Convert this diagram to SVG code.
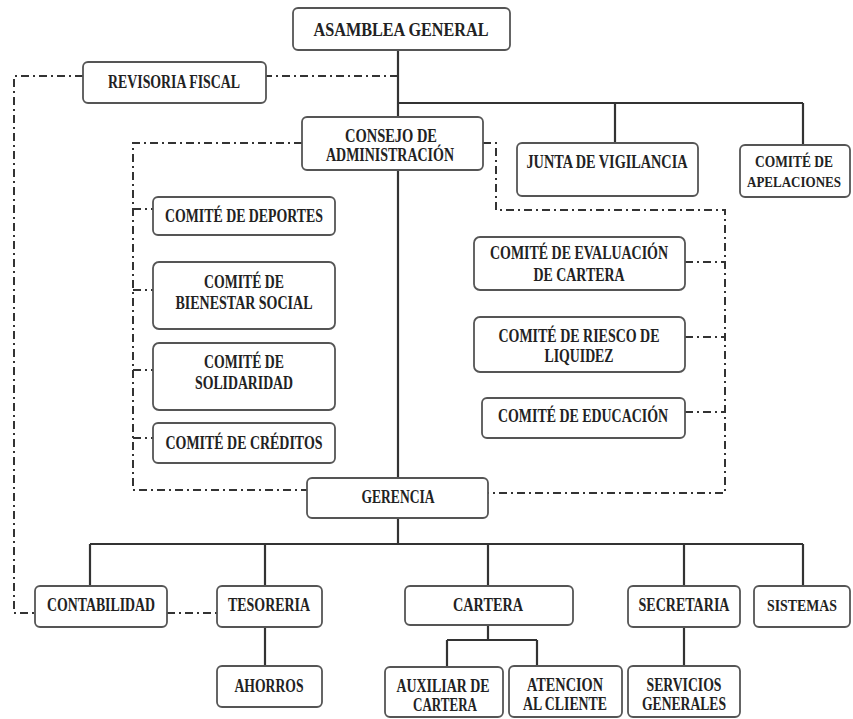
<svg xmlns="http://www.w3.org/2000/svg" width="853" height="719" viewBox="0 0 853 719">
<style>
.bx{fill:#fff;stroke:#555;stroke-width:1.8}
.t{font-family:"Liberation Serif","Times New Roman",serif;font-weight:bold;font-size:18px;fill:#222;text-anchor:middle}
.s{font-size:16px}
.xs{font-size:14px}
.sl{fill:none;stroke:#333;stroke-width:2.2}
.dd{fill:none;stroke:#333;stroke-width:2;stroke-dasharray:8 4 2 4}
</style>
<rect width="853" height="719" fill="#fff"/>
<g id="connectors">
<path class="sl" d="M398,50 V117 M398,103 H803 M615,103 V143 M803,103 V145 M398,170 V478 M398,518 V544 M90,544 H803 M90,544 V586 M265,544 V586 M488,544 V586 M684,544 V586 M803,544 V586 M265,627 V666 M488,625 V640 M447,640 H537 M447,640 V667 M537,640 V667 M684,627 V666"/>
<path class="dd" d="M398,76 H266"/>
<path class="dd" d="M83,76 H14 V613 H35"/>
<path class="dd" d="M167,613 H217"/>
<path class="dd" d="M302,143 H133 V490 H307"/>
<path class="dd" d="M133,209 H153 M133,290 H153 M133,370 H153 M133,438 H153"/>
<path class="dd" d="M483,143 H496 V210 H725 V493 H488"/>
<path class="dd" d="M685,262 H725 M685,337 H725 M685,412 H725"/>
</g>
<g id="asamblea"><rect class="bx" x="293" y="8" width="217" height="42" rx="5"/><text class="t" x="401" y="36" textLength="175" lengthAdjust="spacingAndGlyphs">ASAMBLEA GENERAL</text></g>
<g id="revisoria"><rect class="bx" x="83" y="62" width="183" height="41" rx="5"/><text class="t" x="174" y="88" textLength="132" lengthAdjust="spacingAndGlyphs">REVISORIA FISCAL</text></g>
<g id="consejo"><rect class="bx" x="302" y="117" width="181" height="53" rx="5"/><text class="t" x="391" y="142" textLength="92" lengthAdjust="spacingAndGlyphs">CONSEJO DE</text><text class="t" x="390" y="161" textLength="128" lengthAdjust="spacingAndGlyphs">ADMINISTRACIÓN</text></g>
<g id="junta"><rect class="bx" x="517" y="143" width="181" height="53" rx="5"/><text class="t" x="607" y="168" textLength="161" lengthAdjust="spacingAndGlyphs">JUNTA DE VIGILANCIA</text></g>
<g id="apelaciones"><rect class="bx" x="740" y="145" width="110" height="52" rx="5"/><text class="t s" x="794" y="167" textLength="78" lengthAdjust="spacingAndGlyphs">COMITÉ DE</text><text class="t xs" x="794" y="187" textLength="94" lengthAdjust="spacingAndGlyphs">APELACIONES</text></g>
<g id="deportes"><rect class="bx" x="153" y="197" width="182" height="38" rx="5"/><text class="t" x="244" y="222" textLength="158" lengthAdjust="spacingAndGlyphs">COMITÉ DE DEPORTES</text></g>
<g id="bienestar"><rect class="bx" x="153" y="262" width="182" height="67" rx="6"/><text class="t" x="244" y="288" textLength="80" lengthAdjust="spacingAndGlyphs">COMITÉ DE</text><text class="t" x="244" y="309" textLength="137" lengthAdjust="spacingAndGlyphs">BIENESTAR SOCIAL</text></g>
<g id="solidaridad"><rect class="bx" x="153" y="343" width="182" height="67" rx="6"/><text class="t" x="244" y="368" textLength="80" lengthAdjust="spacingAndGlyphs">COMITÉ DE</text><text class="t" x="244" y="389" textLength="98" lengthAdjust="spacingAndGlyphs">SOLIDARIDAD</text></g>
<g id="creditos"><rect class="bx" x="153" y="423" width="182" height="40" rx="5"/><text class="t" x="244" y="449" textLength="157" lengthAdjust="spacingAndGlyphs">COMITÉ DE CRÉDITOS</text></g>
<g id="evaluacion"><rect class="bx" x="474" y="237" width="211" height="53" rx="6"/><text class="t" x="579" y="259" textLength="178" lengthAdjust="spacingAndGlyphs">COMITÉ DE EVALUACIÓN</text><text class="t" x="579" y="281" textLength="91" lengthAdjust="spacingAndGlyphs">DE CARTERA</text></g>
<g id="riesgo"><rect class="bx" x="474" y="317" width="211" height="55" rx="6"/><text class="t" x="579" y="342" textLength="161" lengthAdjust="spacingAndGlyphs">COMITÉ DE RIESCO DE</text><text class="t" x="579" y="362" textLength="69" lengthAdjust="spacingAndGlyphs">LIQUIDEZ</text></g>
<g id="educacion"><rect class="bx" x="482" y="398" width="203" height="40" rx="5"/><text class="t" x="583" y="422" textLength="170" lengthAdjust="spacingAndGlyphs">COMITÉ DE EDUCACIÓN</text></g>
<g id="gerencia"><rect class="bx" x="307" y="478" width="181" height="40" rx="5"/><text class="t" x="398" y="503" textLength="73" lengthAdjust="spacingAndGlyphs">GERENCIA</text></g>
<g id="contabilidad"><rect class="bx" x="35" y="586" width="132" height="41" rx="5"/><text class="t" x="101" y="611" textLength="108" lengthAdjust="spacingAndGlyphs">CONTABILIDAD</text></g>
<g id="tesoreria"><rect class="bx" x="217" y="586" width="105" height="41" rx="5"/><text class="t" x="269" y="611" textLength="82" lengthAdjust="spacingAndGlyphs">TESORERIA</text></g>
<g id="cartera"><rect class="bx" x="405" y="586" width="168" height="39" rx="5"/><text class="t" x="488" y="611" textLength="70" lengthAdjust="spacingAndGlyphs">CARTERA</text></g>
<g id="secretaria"><rect class="bx" x="628" y="586" width="112" height="41" rx="5"/><text class="t" x="684" y="611" textLength="91" lengthAdjust="spacingAndGlyphs">SECRETARIA</text></g>
<g id="sistemas"><rect class="bx" x="754" y="586" width="96" height="41" rx="5"/><text class="t s" x="802" y="611" textLength="70" lengthAdjust="spacingAndGlyphs">SISTEMAS</text></g>
<g id="ahorros"><rect class="bx" x="217" y="666" width="105" height="41" rx="5"/><text class="t" x="269" y="692" textLength="69" lengthAdjust="spacingAndGlyphs">AHORROS</text></g>
<g id="auxiliar"><rect class="bx" x="385" y="667" width="118" height="50" rx="5"/><text class="t" x="443" y="692" textLength="93" lengthAdjust="spacingAndGlyphs">AUXILIAR DE</text><text class="t" x="445" y="711" textLength="64" lengthAdjust="spacingAndGlyphs">CARTERA</text></g>
<g id="atencion"><rect class="bx" x="509" y="666" width="113" height="51" rx="5"/><text class="t" x="565" y="691" textLength="76" lengthAdjust="spacingAndGlyphs">ATENCION</text><text class="t" x="565" y="710" textLength="84" lengthAdjust="spacingAndGlyphs">AL CLIENTE</text></g>
<g id="servicios"><rect class="bx" x="628" y="666" width="112" height="51" rx="5"/><text class="t" x="684" y="691" textLength="75" lengthAdjust="spacingAndGlyphs">SERVICIOS</text><text class="t" x="684" y="710" textLength="84" lengthAdjust="spacingAndGlyphs">GENERALES</text></g>
</svg>
